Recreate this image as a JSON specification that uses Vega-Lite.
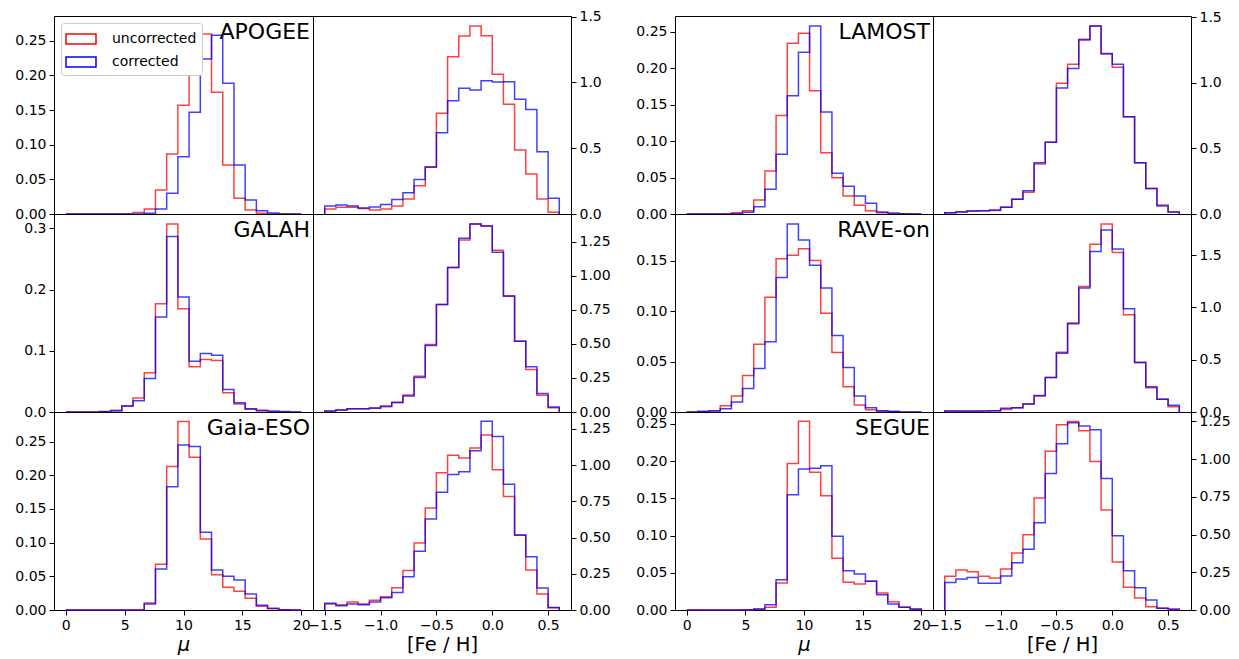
{
"$schema": "https://vega.github.io/schema/vega-lite/v6.json",
"padding": {"left": 14, "top": 9, "right": 5, "bottom": 2},
"background": "white",
"config": {
 "font": "DejaVu Sans",
 "view": {"stroke": "#000", "strokeWidth": 1},
 "axis": {"grid": false, "domain": false, "tickColor": "#000", "tickSize": 5, "tickWidth": 1, "labelFontSize": 14, "labelColor": "#000", "labelFont": "DejaVu Sans", "titleFont": "DejaVu Sans", "titleFontSize": 19.5, "titleFontWeight": "normal", "titleColor": "#000", "labelPadding": 3, "labelFlush": false, "labelOverlap": false, "titlePadding": 3},
 "title": {"anchor": "end", "frame": "group", "offset": -28, "dx": -3, "fontSize": 22, "fontWeight": "normal", "color": "#000", "font": "DejaVu Sans"},
 "line": {"interpolate": "step-after", "strokeWidth": 1.5, "opacity": 0.75}
},
"datasets": {
 "apogee_mu": [
  {"i":0,"x":0,"uncorrected":0,"corrected":0},{"i":1,"x":0,"uncorrected":0,"corrected":0},{"i":2,"x":0.952,"uncorrected":0,"corrected":0},{"i":3,"x":1.905,"uncorrected":0,"corrected":0},{"i":4,"x":2.857,"uncorrected":0,"corrected":0},{"i":5,"x":3.81,"uncorrected":0,"corrected":0},{"i":6,"x":4.762,"uncorrected":0,"corrected":0},{"i":7,"x":5.714,"uncorrected":0.002,"corrected":0},{"i":8,"x":6.667,"uncorrected":0.0072,"corrected":0.001},{"i":9,"x":7.619,"uncorrected":0.0346,"corrected":0.0072},{"i":10,"x":8.571,"uncorrected":0.0865,"corrected":0.0298},{"i":11,"x":9.524,"uncorrected":0.157,"corrected":0.0827},{"i":12,"x":10.476,"uncorrected":0.2245,"corrected":0.1466},{"i":13,"x":11.429,"uncorrected":0.2596,"corrected":0.2236},{"i":14,"x":12.381,"uncorrected":0.1755,"corrected":0.258},{"i":15,"x":13.333,"uncorrected":0.0707,"corrected":0.1885},{"i":16,"x":14.286,"uncorrected":0.0226,"corrected":0.0707},{"i":17,"x":15.238,"uncorrected":0.0058,"corrected":0.0202},{"i":18,"x":16.19,"uncorrected":0.001,"corrected":0.0048},{"i":19,"x":17.143,"uncorrected":0,"corrected":0.0014},{"i":20,"x":18.095,"uncorrected":0,"corrected":0},{"i":21,"x":19.048,"uncorrected":0,"corrected":0},{"i":22,"x":20,"uncorrected":0,"corrected":0}
 ],
 "apogee_feh": [
  {"i":0,"x":-1.5,"uncorrected":0,"corrected":0},{"i":1,"x":-1.5,"uncorrected":0.038,"corrected":0.061},{"i":2,"x":-1.4,"uncorrected":0.051,"corrected":0.068},{"i":3,"x":-1.3,"uncorrected":0.051,"corrected":0.061},{"i":4,"x":-1.2,"uncorrected":0.041,"corrected":0.046},{"i":5,"x":-1.1,"uncorrected":0.03,"corrected":0.053},{"i":6,"x":-1.0,"uncorrected":0.038,"corrected":0.073},{"i":7,"x":-0.9,"uncorrected":0.061,"corrected":0.111},{"i":8,"x":-0.8,"uncorrected":0.114,"corrected":0.162},{"i":9,"x":-0.7,"uncorrected":0.215,"corrected":0.263},{"i":10,"x":-0.6,"uncorrected":0.36,"corrected":0.355},{"i":11,"x":-0.5,"uncorrected":0.765,"corrected":0.618},{"i":12,"x":-0.4,"uncorrected":1.196,"corrected":0.861},{"i":13,"x":-0.3,"uncorrected":1.353,"corrected":0.955},{"i":14,"x":-0.2,"uncorrected":1.429,"corrected":0.942},{"i":15,"x":-0.1,"uncorrected":1.355,"corrected":1.013},{"i":16,"x":0.0,"uncorrected":1.062,"corrected":1.003},{"i":17,"x":0.1,"uncorrected":0.834,"corrected":1.006},{"i":18,"x":0.2,"uncorrected":0.486,"corrected":0.872},{"i":19,"x":0.3,"uncorrected":0.304,"corrected":0.795},{"i":20,"x":0.4,"uncorrected":0.114,"corrected":0.474},{"i":21,"x":0.5,"uncorrected":0.013,"corrected":0.119},{"i":22,"x":0.6,"uncorrected":0,"corrected":0}
 ],
 "lamost_mu": [
  {"i":0,"x":0,"uncorrected":0,"corrected":0},{"i":1,"x":0,"uncorrected":0,"corrected":0},{"i":2,"x":0.952,"uncorrected":0,"corrected":0},{"i":3,"x":1.905,"uncorrected":0,"corrected":0},{"i":4,"x":2.857,"uncorrected":0,"corrected":0},{"i":5,"x":3.81,"uncorrected":0.0018,"corrected":0.0005},{"i":6,"x":4.762,"uncorrected":0.0046,"corrected":0.0023},{"i":7,"x":5.714,"uncorrected":0.0192,"corrected":0.01},{"i":8,"x":6.667,"uncorrected":0.059,"corrected":0.034},{"i":9,"x":7.619,"uncorrected":0.135,"corrected":0.082},{"i":10,"x":8.571,"uncorrected":0.234,"corrected":0.162},{"i":11,"x":9.524,"uncorrected":0.2477,"corrected":0.2217},{"i":12,"x":10.476,"uncorrected":0.169,"corrected":0.2578},{"i":13,"x":11.429,"uncorrected":0.084,"corrected":0.14},{"i":14,"x":12.381,"uncorrected":0.0498,"corrected":0.056},{"i":15,"x":13.333,"uncorrected":0.0247,"corrected":0.038},{"i":16,"x":14.286,"uncorrected":0.0119,"corrected":0.0247},{"i":17,"x":15.238,"uncorrected":0.0046,"corrected":0.0146},{"i":18,"x":16.19,"uncorrected":0.0018,"corrected":0.0027},{"i":19,"x":17.143,"uncorrected":0.0005,"corrected":0.0014},{"i":20,"x":18.095,"uncorrected":0,"corrected":0.0005},{"i":21,"x":19.048,"uncorrected":0,"corrected":0},{"i":22,"x":20,"uncorrected":0,"corrected":0}
 ],
 "lamost_feh": [
  {"i":0,"x":-1.5,"uncorrected":0,"corrected":0},{"i":1,"x":-1.5,"uncorrected":0.01,"corrected":0.01},{"i":2,"x":-1.4,"uncorrected":0.018,"corrected":0.016},{"i":3,"x":-1.3,"uncorrected":0.023,"corrected":0.023},{"i":4,"x":-1.2,"uncorrected":0.025,"corrected":0.025},{"i":5,"x":-1.1,"uncorrected":0.026,"corrected":0.03},{"i":6,"x":-1.0,"uncorrected":0.051,"corrected":0.051},{"i":7,"x":-0.9,"uncorrected":0.112,"corrected":0.112},{"i":8,"x":-0.8,"uncorrected":0.165,"corrected":0.178},{"i":9,"x":-0.7,"uncorrected":0.381,"corrected":0.391},{"i":10,"x":-0.6,"uncorrected":0.546,"corrected":0.546},{"i":11,"x":-0.5,"uncorrected":0.995,"corrected":0.959},{"i":12,"x":-0.4,"uncorrected":1.14,"corrected":1.109},{"i":13,"x":-0.3,"uncorrected":1.33,"corrected":1.325},{"i":14,"x":-0.2,"uncorrected":1.431,"corrected":1.431},{"i":15,"x":-0.1,"uncorrected":1.218,"corrected":1.223},{"i":16,"x":0.0,"uncorrected":1.117,"corrected":1.14},{"i":17,"x":0.1,"uncorrected":0.741,"corrected":0.741},{"i":18,"x":0.2,"uncorrected":0.391,"corrected":0.391},{"i":19,"x":0.3,"uncorrected":0.195,"corrected":0.195},{"i":20,"x":0.4,"uncorrected":0.0685,"corrected":0.061},{"i":21,"x":0.5,"uncorrected":0.015,"corrected":0.015},{"i":22,"x":0.6,"uncorrected":0,"corrected":0}
 ],
 "galah_mu": [
  {"i":0,"x":0,"uncorrected":0,"corrected":0},{"i":1,"x":0,"uncorrected":0,"corrected":0},{"i":2,"x":0.952,"uncorrected":0,"corrected":0},{"i":3,"x":1.905,"uncorrected":0,"corrected":0},{"i":4,"x":2.857,"uncorrected":0.0005,"corrected":0.001},{"i":5,"x":3.81,"uncorrected":0.0027,"corrected":0.0016},{"i":6,"x":4.762,"uncorrected":0.0098,"corrected":0.0098},{"i":7,"x":5.714,"uncorrected":0.0228,"corrected":0.0184},{"i":8,"x":6.667,"uncorrected":0.064,"corrected":0.0548},{"i":9,"x":7.619,"uncorrected":0.177,"corrected":0.155},{"i":10,"x":8.571,"uncorrected":0.307,"corrected":0.2865},{"i":11,"x":9.524,"uncorrected":0.1687,"corrected":0.1877},{"i":12,"x":10.476,"uncorrected":0.0738,"corrected":0.083},{"i":13,"x":11.429,"uncorrected":0.0857,"corrected":0.0955},{"i":14,"x":12.381,"uncorrected":0.0841,"corrected":0.0928},{"i":15,"x":13.333,"uncorrected":0.0315,"corrected":0.0369},{"i":16,"x":14.286,"uncorrected":0.013,"corrected":0.0152},{"i":17,"x":15.238,"uncorrected":0.0043,"corrected":0.0054},{"i":18,"x":16.19,"uncorrected":0.0016,"corrected":0.0027},{"i":19,"x":17.143,"uncorrected":0.0005,"corrected":0.0016},{"i":20,"x":18.095,"uncorrected":0,"corrected":0.001},{"i":21,"x":19.048,"uncorrected":0,"corrected":0},{"i":22,"x":20,"uncorrected":0,"corrected":0}
 ],
 "galah_feh": [
  {"i":0,"x":-1.5,"uncorrected":0,"corrected":0},{"i":1,"x":-1.5,"uncorrected":0.007,"corrected":0.007},{"i":2,"x":-1.4,"uncorrected":0.015,"corrected":0.015},{"i":3,"x":-1.3,"uncorrected":0.024,"corrected":0.024},{"i":4,"x":-1.2,"uncorrected":0.024,"corrected":0.024},{"i":5,"x":-1.1,"uncorrected":0.027,"corrected":0.029},{"i":6,"x":-1.0,"uncorrected":0.039,"corrected":0.044},{"i":7,"x":-0.9,"uncorrected":0.068,"corrected":0.071},{"i":8,"x":-0.8,"uncorrected":0.124,"corrected":0.117},{"i":9,"x":-0.7,"uncorrected":0.263,"corrected":0.253},{"i":10,"x":-0.6,"uncorrected":0.495,"corrected":0.487},{"i":11,"x":-0.5,"uncorrected":0.789,"corrected":0.789},{"i":12,"x":-0.4,"uncorrected":1.06,"corrected":1.06},{"i":13,"x":-0.3,"uncorrected":1.262,"corrected":1.274},{"i":14,"x":-0.2,"uncorrected":1.379,"corrected":1.379},{"i":15,"x":-0.1,"uncorrected":1.364,"corrected":1.364},{"i":16,"x":0.0,"uncorrected":1.187,"corrected":1.172},{"i":17,"x":0.1,"uncorrected":0.853,"corrected":0.848},{"i":18,"x":0.2,"uncorrected":0.519,"corrected":0.519},{"i":19,"x":0.3,"uncorrected":0.312,"corrected":0.331},{"i":20,"x":0.4,"uncorrected":0.122,"corrected":0.136},{"i":21,"x":0.5,"uncorrected":0.032,"corrected":0.037},{"i":22,"x":0.6,"uncorrected":0,"corrected":0}
 ],
 "rave_mu": [
  {"i":0,"x":0,"uncorrected":0,"corrected":0},{"i":1,"x":0,"uncorrected":0,"corrected":0},{"i":2,"x":0.952,"uncorrected":0.0003,"corrected":0.0007},{"i":3,"x":1.905,"uncorrected":0.0013,"corrected":0.001},{"i":4,"x":2.857,"uncorrected":0.0063,"corrected":0.0033},{"i":5,"x":3.81,"uncorrected":0.0158,"corrected":0.0099},{"i":6,"x":4.762,"uncorrected":0.0363,"corrected":0.0234},{"i":7,"x":5.714,"uncorrected":0.0673,"corrected":0.0432},{"i":8,"x":6.667,"uncorrected":0.114,"corrected":0.0696},{"i":9,"x":7.619,"uncorrected":0.152,"corrected":0.1335},{"i":10,"x":8.571,"uncorrected":0.1556,"corrected":0.1866},{"i":11,"x":9.524,"uncorrected":0.162,"corrected":0.1708},{"i":12,"x":10.476,"uncorrected":0.1503,"corrected":0.1457},{"i":13,"x":11.429,"uncorrected":0.098,"corrected":0.123},{"i":14,"x":12.381,"uncorrected":0.059,"corrected":0.0758},{"i":15,"x":13.333,"uncorrected":0.025,"corrected":0.0442},{"i":16,"x":14.286,"uncorrected":0.0069,"corrected":0.0158},{"i":17,"x":15.238,"uncorrected":0.0023,"corrected":0.0043},{"i":18,"x":16.19,"uncorrected":0.0007,"corrected":0.0013},{"i":19,"x":17.143,"uncorrected":0.0003,"corrected":0.0007},{"i":20,"x":18.095,"uncorrected":0,"corrected":0},{"i":21,"x":19.048,"uncorrected":0,"corrected":0},{"i":22,"x":20,"uncorrected":0,"corrected":0}
 ],
 "rave_feh": [
  {"i":0,"x":-1.5,"uncorrected":0,"corrected":0},{"i":1,"x":-1.5,"uncorrected":0.01,"corrected":0.01},{"i":2,"x":-1.4,"uncorrected":0.006,"corrected":0.01},{"i":3,"x":-1.3,"uncorrected":0.008,"corrected":0.01},{"i":4,"x":-1.2,"uncorrected":0.01,"corrected":0.01},{"i":5,"x":-1.1,"uncorrected":0.013,"corrected":0.013},{"i":6,"x":-1.0,"uncorrected":0.025,"corrected":0.035},{"i":7,"x":-0.9,"uncorrected":0.041,"corrected":0.041},{"i":8,"x":-0.8,"uncorrected":0.076,"corrected":0.076},{"i":9,"x":-0.7,"uncorrected":0.153,"corrected":0.159},{"i":10,"x":-0.6,"uncorrected":0.33,"corrected":0.33},{"i":11,"x":-0.5,"uncorrected":0.572,"corrected":0.562},{"i":12,"x":-0.4,"uncorrected":0.852,"corrected":0.845},{"i":13,"x":-0.3,"uncorrected":1.201,"corrected":1.185},{"i":14,"x":-0.2,"uncorrected":1.605,"corrected":1.535},{"i":15,"x":-0.1,"uncorrected":1.799,"corrected":1.741},{"i":16,"x":0.0,"uncorrected":1.525,"corrected":1.56},{"i":17,"x":0.1,"uncorrected":0.931,"corrected":0.988},{"i":18,"x":0.2,"uncorrected":0.47,"corrected":0.476},{"i":19,"x":0.3,"uncorrected":0.232,"corrected":0.241},{"i":20,"x":0.4,"uncorrected":0.121,"corrected":0.121},{"i":21,"x":0.5,"uncorrected":0.051,"corrected":0.064},{"i":22,"x":0.6,"uncorrected":0,"corrected":0}
 ],
 "gaia_mu": [
  {"i":0,"x":0,"uncorrected":0,"corrected":0},{"i":1,"x":0,"uncorrected":0,"corrected":0},{"i":2,"x":0.952,"uncorrected":0,"corrected":0},{"i":3,"x":1.905,"uncorrected":0,"corrected":0},{"i":4,"x":2.857,"uncorrected":0,"corrected":0},{"i":5,"x":3.81,"uncorrected":0,"corrected":0},{"i":6,"x":4.762,"uncorrected":0,"corrected":0},{"i":7,"x":5.714,"uncorrected":0,"corrected":0},{"i":8,"x":6.667,"uncorrected":0.0104,"corrected":0.0089},{"i":9,"x":7.619,"uncorrected":0.068,"corrected":0.061},{"i":10,"x":8.571,"uncorrected":0.213,"corrected":0.183},{"i":11,"x":9.524,"uncorrected":0.28,"corrected":0.245},{"i":12,"x":10.476,"uncorrected":0.2267,"corrected":0.2426},{"i":13,"x":11.429,"uncorrected":0.1054,"corrected":0.1153},{"i":14,"x":12.381,"uncorrected":0.0525,"corrected":0.0594},{"i":15,"x":13.333,"uncorrected":0.0337,"corrected":0.05},{"i":16,"x":14.286,"uncorrected":0.0277,"corrected":0.0446},{"i":17,"x":15.238,"uncorrected":0.0173,"corrected":0.0238},{"i":18,"x":16.19,"uncorrected":0.0054,"corrected":0.0069},{"i":19,"x":17.143,"uncorrected":0.002,"corrected":0.0025},{"i":20,"x":18.095,"uncorrected":0.0005,"corrected":0.0005},{"i":21,"x":19.048,"uncorrected":0,"corrected":0},{"i":22,"x":20,"uncorrected":0,"corrected":0}
 ],
 "gaia_feh": [
  {"i":0,"x":-1.5,"uncorrected":0,"corrected":0},{"i":1,"x":-1.5,"uncorrected":0.041,"corrected":0.046},{"i":2,"x":-1.4,"uncorrected":0.037,"corrected":0.03},{"i":3,"x":-1.3,"uncorrected":0.055,"corrected":0.041},{"i":4,"x":-1.2,"uncorrected":0.041,"corrected":0.037},{"i":5,"x":-1.1,"uncorrected":0.067,"corrected":0.055},{"i":6,"x":-1.0,"uncorrected":0.092,"corrected":0.085},{"i":7,"x":-0.9,"uncorrected":0.154,"corrected":0.12},{"i":8,"x":-0.8,"uncorrected":0.272,"corrected":0.23},{"i":9,"x":-0.7,"uncorrected":0.463,"corrected":0.405},{"i":10,"x":-0.6,"uncorrected":0.704,"corrected":0.628},{"i":11,"x":-0.5,"uncorrected":0.948,"corrected":0.813},{"i":12,"x":-0.4,"uncorrected":1.068,"corrected":0.935},{"i":13,"x":-0.3,"uncorrected":1.05,"corrected":0.955},{"i":14,"x":-0.2,"uncorrected":1.119,"corrected":1.1},{"i":15,"x":-0.1,"uncorrected":1.209,"corrected":1.303},{"i":16,"x":0.0,"uncorrected":0.969,"corrected":1.197},{"i":17,"x":0.1,"uncorrected":0.783,"corrected":0.868},{"i":18,"x":0.2,"uncorrected":0.516,"corrected":0.518},{"i":19,"x":0.3,"uncorrected":0.276,"corrected":0.368},{"i":20,"x":0.4,"uncorrected":0.11,"corrected":0.152},{"i":21,"x":0.5,"uncorrected":0.016,"corrected":0.018},{"i":22,"x":0.6,"uncorrected":0,"corrected":0}
 ],
 "segue_mu": [
  {"i":0,"x":0,"uncorrected":0,"corrected":0},{"i":1,"x":0,"uncorrected":0,"corrected":0},{"i":2,"x":0.952,"uncorrected":0,"corrected":0},{"i":3,"x":1.905,"uncorrected":0,"corrected":0},{"i":4,"x":2.857,"uncorrected":0,"corrected":0},{"i":5,"x":3.81,"uncorrected":0,"corrected":0},{"i":6,"x":4.762,"uncorrected":0,"corrected":0.0004},{"i":7,"x":5.714,"uncorrected":0.001,"corrected":0.0013},{"i":8,"x":6.667,"uncorrected":0.0036,"corrected":0.0072},{"i":9,"x":7.619,"uncorrected":0.0363,"corrected":0.0408},{"i":10,"x":8.571,"uncorrected":0.197,"corrected":0.155},{"i":11,"x":9.524,"uncorrected":0.2536,"corrected":0.1895},{"i":12,"x":10.476,"uncorrected":0.185,"corrected":0.1904},{"i":13,"x":11.429,"uncorrected":0.1537,"corrected":0.194},{"i":14,"x":12.381,"uncorrected":0.0694,"corrected":0.099},{"i":15,"x":13.333,"uncorrected":0.0372,"corrected":0.0529},{"i":16,"x":14.286,"uncorrected":0.0349,"corrected":0.0484},{"i":17,"x":15.238,"uncorrected":0.0385,"corrected":0.0385},{"i":18,"x":16.19,"uncorrected":0.0228,"corrected":0.0206},{"i":19,"x":17.143,"uncorrected":0.0112,"corrected":0.0081},{"i":20,"x":18.095,"uncorrected":0.0036,"corrected":0.0036},{"i":21,"x":19.048,"uncorrected":0.001,"corrected":0.0013},{"i":22,"x":20,"uncorrected":0,"corrected":0}
 ],
 "segue_feh": [
  {"i":0,"x":-1.5,"uncorrected":0,"corrected":0},{"i":1,"x":-1.5,"uncorrected":0.223,"corrected":0.183},{"i":2,"x":-1.4,"uncorrected":0.265,"corrected":0.205},{"i":3,"x":-1.3,"uncorrected":0.254,"corrected":0.216},{"i":4,"x":-1.2,"uncorrected":0.223,"corrected":0.177},{"i":5,"x":-1.1,"uncorrected":0.212,"corrected":0.177},{"i":6,"x":-1.0,"uncorrected":0.272,"corrected":0.225},{"i":7,"x":-0.9,"uncorrected":0.378,"corrected":0.314},{"i":8,"x":-0.8,"uncorrected":0.499,"corrected":0.402},{"i":9,"x":-0.7,"uncorrected":0.742,"corrected":0.579},{"i":10,"x":-0.6,"uncorrected":1.053,"corrected":0.905},{"i":11,"x":-0.5,"uncorrected":1.228,"corrected":1.102},{"i":12,"x":-0.4,"uncorrected":1.25,"corrected":1.241},{"i":13,"x":-0.3,"uncorrected":1.188,"corrected":1.219},{"i":14,"x":-0.2,"uncorrected":0.985,"corrected":1.195},{"i":15,"x":-0.1,"uncorrected":0.663,"corrected":0.872},{"i":16,"x":0.0,"uncorrected":0.318,"corrected":0.492},{"i":17,"x":0.1,"uncorrected":0.15,"corrected":0.261},{"i":18,"x":0.2,"uncorrected":0.08,"corrected":0.148},{"i":19,"x":0.3,"uncorrected":0.022,"corrected":0.066},{"i":20,"x":0.4,"uncorrected":0.011,"corrected":0.011},{"i":21,"x":0.5,"uncorrected":0.002,"corrected":0.007},{"i":22,"x":0.6,"uncorrected":0,"corrected":0}
 ]
},
"columns": 5,
"spacing": {"row": 0, "column": 0},
"bounds": "flush",
"resolve": {"scale": {"color": "independent"}, "legend": {"color": "independent"}},
"concat": [
 {"width": 259, "height": 198, "title": "APOGEE", "data": {"name": "apogee_mu"},
  "transform": [{"fold": ["uncorrected", "corrected"], "as": ["series", "value"]}],
  "mark": "line",
  "encoding": {
   "x": {"field": "x", "type": "quantitative", "scale": {"domain": [-1, 21], "nice": false, "zero": false}, "axis": null},
   "y": {"field": "value", "type": "quantitative", "scale": {"domain": [0, 0.2856], "nice": false}, "axis": {"orient": "left", "values": [0, 0.05, 0.1, 0.15, 0.2, 0.25], "format": ".2f", "title": null}},
   "color": {"field": "series", "type": "nominal", "scale": {"domain": ["uncorrected", "corrected"], "range": ["#ff0000", "#0000ff"]},
    "legend": {"orient": "top-left", "offset": 7, "title": null, "symbolType": "M-1.5,-0.5H1.5V0.5H-1.5Z", "symbolSize": 400, "symbolStrokeWidth": 1.5, "symbolOffset": 4, "labelOffset": 20, "labelFontSize": 14, "labelFont": "DejaVu Sans", "labelColor": "#000", "rowPadding": 4, "padding": 5, "strokeColor": "#cccccc", "fillColor": "#ffffff", "cornerRadius": 3}},
   "order": {"field": "i", "type": "quantitative"}
  }},
 {"width": 258, "height": 198, "data": {"name": "apogee_feh"},
  "transform": [{"fold": ["uncorrected", "corrected"], "as": ["series", "value"]}],
  "mark": "line",
  "encoding": {
   "x": {"field": "x", "type": "quantitative", "scale": {"domain": [-1.605, 0.705], "nice": false, "zero": false}, "axis": null},
   "y": {"field": "value", "type": "quantitative", "scale": {"domain": [0, 1.505], "nice": false}, "axis": {"orient": "right", "values": [0, 0.5, 1, 1.5], "format": ".1f", "title": null}},
   "color": {"field": "series", "type": "nominal", "scale": {"domain": ["uncorrected", "corrected"], "range": ["#ff0000", "#0000ff"]}, "legend": null},
   "order": {"field": "i", "type": "quantitative"}
  }},
 {"width": 104, "height": 198, "view": {"stroke": null}, "data": {"values": []}, "mark": "rule", "encoding": {}},
 {"width": 258, "height": 198, "title": "LAMOST", "data": {"name": "lamost_mu"},
  "transform": [{"fold": ["uncorrected", "corrected"], "as": ["series", "value"]}],
  "mark": "line",
  "encoding": {
   "x": {"field": "x", "type": "quantitative", "scale": {"domain": [-1, 21], "nice": false, "zero": false}, "axis": null},
   "y": {"field": "value", "type": "quantitative", "scale": {"domain": [0, 0.2715], "nice": false}, "axis": {"orient": "left", "values": [0, 0.05, 0.1, 0.15, 0.2, 0.25], "format": ".2f", "title": null}},
   "color": {"field": "series", "type": "nominal", "scale": {"domain": ["uncorrected", "corrected"], "range": ["#ff0000", "#0000ff"]}, "legend": null},
   "order": {"field": "i", "type": "quantitative"}
  }},
 {"width": 258, "height": 198, "data": {"name": "lamost_feh"},
  "transform": [{"fold": ["uncorrected", "corrected"], "as": ["series", "value"]}],
  "mark": "line",
  "encoding": {
   "x": {"field": "x", "type": "quantitative", "scale": {"domain": [-1.605, 0.705], "nice": false, "zero": false}, "axis": null},
   "y": {"field": "value", "type": "quantitative", "scale": {"domain": [0, 1.508], "nice": false}, "axis": {"orient": "right", "values": [0, 0.5, 1, 1.5], "format": ".1f", "title": null}},
   "color": {"field": "series", "type": "nominal", "scale": {"domain": ["uncorrected", "corrected"], "range": ["#ff0000", "#0000ff"]}, "legend": null},
   "order": {"field": "i", "type": "quantitative"}
  }},
 {"width": 259, "height": 198, "title": "GALAH", "data": {"name": "galah_mu"},
  "transform": [{"fold": ["uncorrected", "corrected"], "as": ["series", "value"]}],
  "mark": "line",
  "encoding": {
   "x": {"field": "x", "type": "quantitative", "scale": {"domain": [-1, 21], "nice": false, "zero": false}, "axis": null},
   "y": {"field": "value", "type": "quantitative", "scale": {"domain": [0, 0.3234], "nice": false}, "axis": {"orient": "left", "values": [0, 0.1, 0.2, 0.3], "format": ".1f", "title": null}},
   "color": {"field": "series", "type": "nominal", "scale": {"domain": ["uncorrected", "corrected"], "range": ["#ff0000", "#0000ff"]}, "legend": null},
   "order": {"field": "i", "type": "quantitative"}
  }},
 {"width": 258, "height": 198, "data": {"name": "galah_feh"},
  "transform": [{"fold": ["uncorrected", "corrected"], "as": ["series", "value"]}],
  "mark": "line",
  "encoding": {
   "x": {"field": "x", "type": "quantitative", "scale": {"domain": [-1.605, 0.705], "nice": false, "zero": false}, "axis": null},
   "y": {"field": "value", "type": "quantitative", "scale": {"domain": [0, 1.452], "nice": false}, "axis": {"orient": "right", "values": [0, 0.25, 0.5, 0.75, 1, 1.25], "format": ".2f", "title": null}},
   "color": {"field": "series", "type": "nominal", "scale": {"domain": ["uncorrected", "corrected"], "range": ["#ff0000", "#0000ff"]}, "legend": null},
   "order": {"field": "i", "type": "quantitative"}
  }},
 {"width": 104, "height": 198, "view": {"stroke": null}, "data": {"values": []}, "mark": "rule", "encoding": {}},
 {"width": 258, "height": 198, "title": "RAVE-on", "data": {"name": "rave_mu"},
  "transform": [{"fold": ["uncorrected", "corrected"], "as": ["series", "value"]}],
  "mark": "line",
  "encoding": {
   "x": {"field": "x", "type": "quantitative", "scale": {"domain": [-1, 21], "nice": false, "zero": false}, "axis": null},
   "y": {"field": "value", "type": "quantitative", "scale": {"domain": [0, 0.1965], "nice": false}, "axis": {"orient": "left", "values": [0, 0.05, 0.1, 0.15], "format": ".2f", "title": null}},
   "color": {"field": "series", "type": "nominal", "scale": {"domain": ["uncorrected", "corrected"], "range": ["#ff0000", "#0000ff"]}, "legend": null},
   "order": {"field": "i", "type": "quantitative"}
  }},
 {"width": 258, "height": 198, "data": {"name": "rave_feh"},
  "transform": [{"fold": ["uncorrected", "corrected"], "as": ["series", "value"]}],
  "mark": "line",
  "encoding": {
   "x": {"field": "x", "type": "quantitative", "scale": {"domain": [-1.605, 0.705], "nice": false, "zero": false}, "axis": null},
   "y": {"field": "value", "type": "quantitative", "scale": {"domain": [0, 1.894], "nice": false}, "axis": {"orient": "right", "values": [0, 0.5, 1, 1.5], "format": ".1f", "title": null}},
   "color": {"field": "series", "type": "nominal", "scale": {"domain": ["uncorrected", "corrected"], "range": ["#ff0000", "#0000ff"]}, "legend": null},
   "order": {"field": "i", "type": "quantitative"}
  }},
 {"width": 259, "height": 198, "title": "Gaia-ESO", "data": {"name": "gaia_mu"},
  "transform": [{"fold": ["uncorrected", "corrected"], "as": ["series", "value"]}],
  "mark": "line",
  "encoding": {
   "x": {"field": "x", "type": "quantitative", "scale": {"domain": [-1, 21], "nice": false, "zero": false}, "axis": {"values": [0, 5, 10, 15, 20], "format": "d", "title": "μ", "titleFontStyle": "italic"}},
   "y": {"field": "value", "type": "quantitative", "scale": {"domain": [0, 0.294], "nice": false}, "axis": {"orient": "left", "values": [0, 0.05, 0.1, 0.15, 0.2, 0.25], "format": ".2f", "title": null}},
   "color": {"field": "series", "type": "nominal", "scale": {"domain": ["uncorrected", "corrected"], "range": ["#ff0000", "#0000ff"]}, "legend": null},
   "order": {"field": "i", "type": "quantitative"}
  }},
 {"width": 258, "height": 198, "data": {"name": "gaia_feh"},
  "transform": [{"fold": ["uncorrected", "corrected"], "as": ["series", "value"]}],
  "mark": "line",
  "encoding": {
   "x": {"field": "x", "type": "quantitative", "scale": {"domain": [-1.605, 0.705], "nice": false, "zero": false}, "axis": {"values": [-1.5, -1, -0.5, 0, 0.5], "format": ".1f", "title": "[Fe / H]"}},
   "y": {"field": "value", "type": "quantitative", "scale": {"domain": [0, 1.367], "nice": false}, "axis": {"orient": "right", "values": [0, 0.25, 0.5, 0.75, 1, 1.25], "format": ".2f", "title": null}},
   "color": {"field": "series", "type": "nominal", "scale": {"domain": ["uncorrected", "corrected"], "range": ["#ff0000", "#0000ff"]}, "legend": null},
   "order": {"field": "i", "type": "quantitative"}
  }},
 {"width": 104, "height": 198, "view": {"stroke": null}, "data": {"values": []}, "mark": "rule", "encoding": {}},
 {"width": 258, "height": 198, "title": "SEGUE", "data": {"name": "segue_mu"},
  "transform": [{"fold": ["uncorrected", "corrected"], "as": ["series", "value"]}],
  "mark": "line",
  "encoding": {
   "x": {"field": "x", "type": "quantitative", "scale": {"domain": [-1, 21], "nice": false, "zero": false}, "axis": {"values": [0, 5, 10, 15, 20], "format": "d", "title": "μ", "titleFontStyle": "italic"}},
   "y": {"field": "value", "type": "quantitative", "scale": {"domain": [0, 0.2661], "nice": false}, "axis": {"orient": "left", "values": [0, 0.05, 0.1, 0.15, 0.2, 0.25], "format": ".2f", "title": null}},
   "color": {"field": "series", "type": "nominal", "scale": {"domain": ["uncorrected", "corrected"], "range": ["#ff0000", "#0000ff"]}, "legend": null},
   "order": {"field": "i", "type": "quantitative"}
  }},
 {"width": 258, "height": 198, "data": {"name": "segue_feh"},
  "transform": [{"fold": ["uncorrected", "corrected"], "as": ["series", "value"]}],
  "mark": "line",
  "encoding": {
   "x": {"field": "x", "type": "quantitative", "scale": {"domain": [-1.605, 0.705], "nice": false, "zero": false}, "axis": {"values": [-1.5, -1, -0.5, 0, 0.5], "format": ".1f", "title": "[Fe / H]"}},
   "y": {"field": "value", "type": "quantitative", "scale": {"domain": [0, 1.3125], "nice": false}, "axis": {"orient": "right", "values": [0, 0.25, 0.5, 0.75, 1, 1.25], "format": ".2f", "title": null}},
   "color": {"field": "series", "type": "nominal", "scale": {"domain": ["uncorrected", "corrected"], "range": ["#ff0000", "#0000ff"]}, "legend": null},
   "order": {"field": "i", "type": "quantitative"}
  }}
]
}
